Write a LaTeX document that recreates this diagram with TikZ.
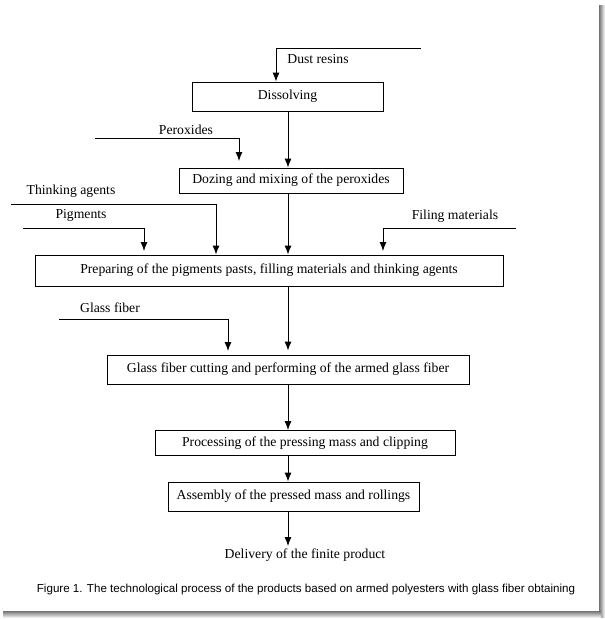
\documentclass[tikz,border=0pt]{standalone}
\usepackage{fontspec}
\setmainfont{Liberation Serif}
\newfontfamily\capfont{Liberation Sans}
\usetikzlibrary{arrows.meta}
\begin{document}
\begin{tikzpicture}[x=1pt,y=-1pt,
  box/.style={draw,line width=0.9pt,inner sep=0pt,font=\fontsize{13.7}{16}\selectfont},
  lbl/.style={inner sep=0pt,font=\fontsize{13.7}{16}\selectfont},
  feed/.style={line width=0.9pt,-{Latex[length=9pt,width=7pt]}}]
\useasboundingbox (0,0) rectangle (605,619);
\fill[white] (0,0) rectangle (605,619);
% shadow
\shade[left color=gray!90!black,right color=white] (599,5) rectangle (605,617);
\shade[top color=gray!90!black,bottom color=white] (3,611) rectangle (601,618);
% boxes
\node[box,minimum width=191pt,minimum height=29pt] (dis) at (287.5,96.5) {Dissolving};
\node[box,minimum width=224pt,minimum height=25pt] (doz) at (291,180.5) {Dozing and mixing of the peroxides};
\node[box,minimum width=468pt,minimum height=31pt] (prep) at (269,270.5) {Preparing of the pigments pasts, filling materials and thinking agents};
\node[box,minimum width=362pt,minimum height=29pt] (gla) at (288,369.5) {Glass fiber cutting and performing of the armed glass fiber};
\node[box,minimum width=300pt,minimum height=25pt] (pro) at (305,443) {Processing of the pressing mass and clipping};
\node[box,minimum width=251pt,minimum height=29pt] (asm) at (293.5,496.5) {Assembly of the pressed mass and rollings};
\node[lbl] (del) at (305,555) {Delivery of the finite product};
% labels
\node[lbl] (ldust) at (318,59) {Dust resins};
\node[lbl] (lper) at (186,130) {Peroxides};
\node[lbl] (lthk) at (71,191) {Thinking agents};
\node[lbl] (lpig) at (81,215) {Pigments};
\node[lbl] (lfil) at (455,216) {Filing materials};
\node[lbl] (lgla) at (110,308) {Glass fiber};
\node[inner sep=0pt,font=\capfont\fontsize{11.6}{13}\selectfont] (cap) at (306,589) {Figure 1. The technological process of the products based on armed polyesters with glass fiber obtaining};
% feed coordinates
\coordinate (dust0) at (421,48);
\coordinate (dust1) at (276,48);
\coordinate (per0) at (95,138);
\coordinate (per1) at (239,138);
\coordinate (per2) at (239,161);
\coordinate (thk0) at (11,204);
\coordinate (thk1) at (216,204);
\coordinate (pig0) at (23,228);
\coordinate (pig1) at (144,228);
\coordinate (pig2) at (144,251);
\coordinate (fil0) at (516,228);
\coordinate (fil1) at (383,228);
\coordinate (fil2) at (383,251);
\coordinate (gf0) at (59,319);
\coordinate (gf1) at (228,319);
\coordinate (gf2) at (228,351);
\coordinate (dtop) at (288,546);
% feeds
\draw[feed] (dust0) -- (dust1) -- (dust1 |- dis.north);
\draw[feed] (per0) -- (per1) -- (per2);
\draw[feed] (thk0) -- (thk1) -- (thk1 |- prep.north);
\draw[feed] (pig0) -- (pig1) -- (pig2);
\draw[feed] (fil0) -- (fil1) -- (fil2);
\draw[feed] (gf0) -- (gf1) -- (gf2);
% main flow
\draw[feed] (dis.south -| dtop) -- (doz.north -| dtop);
\draw[feed] (doz.south -| dtop) -- (prep.north -| dtop);
\draw[feed] (prep.south -| dtop) -- ([yshift=4pt]gla.north -| dtop);
\draw[feed] (gla.south -| dtop) -- (pro.north -| dtop);
\draw[feed] (pro.south -| dtop) -- (asm.north -| dtop);
\draw[feed] (asm.south -| dtop) -- (dtop);
\end{tikzpicture}
\end{document}
